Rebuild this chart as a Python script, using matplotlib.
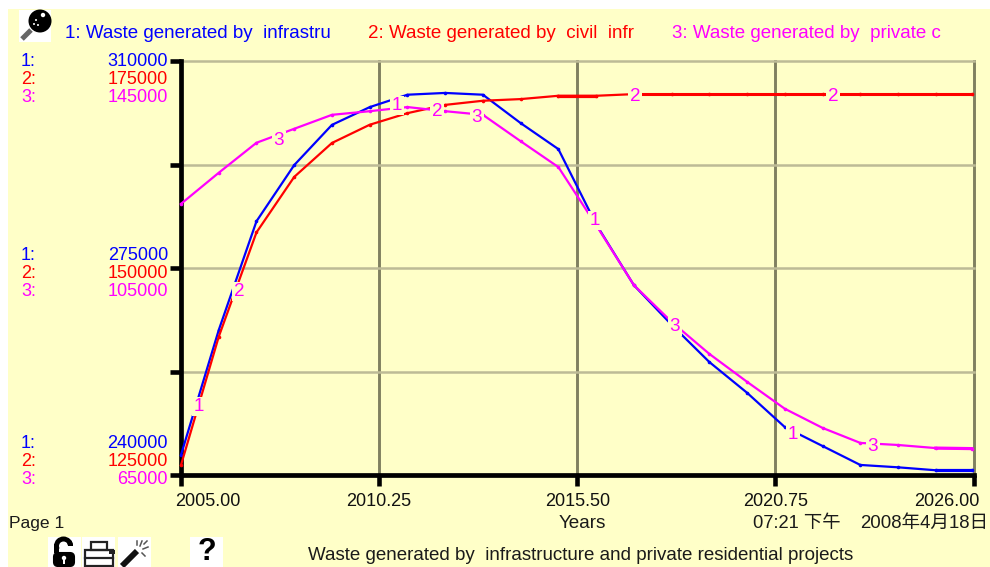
import numpy as np
import matplotlib
matplotlib.use("Agg")
import matplotlib.pyplot as plt
from matplotlib.patches import Rectangle, Circle, Wedge, FancyBboxPatch
from matplotlib.lines import Line2D
from matplotlib.transforms import ScaledTranslation

# ---------- data ----------
years = [2005, 2006, 2007, 2008, 2009, 2010, 2011, 2012, 2013, 2014, 2015,
         2016, 2017, 2018, 2019, 2020, 2021, 2022, 2023, 2024, 2025, 2025.95]
infrastructure = [243400, 264500, 282900, 292400, 299200, 302200, 304300, 304600,
                  304300, 299500, 295100, 282400, 272100, 265400, 259100, 253900,
                  248100, 244900, 241700, 241300, 240800, 240800]
civil = [126200, 141700, 154300, 161000, 165100, 167300, 168700, 169700, 170200,
         170400, 170800, 170800, 171000, 171000, 171000, 171000, 171000, 171000,
         171000, 171000, 171000, 171000]
private = [117400, 123400, 129200, 131900, 134600, 135300, 136100, 135300, 134600,
           129500, 124500, 113300, 101700, 94600, 88400, 83000, 77800, 74100,
           71200, 70800, 70200, 70100]
scale_1 = [240000, 275000, 310000]
scale_2 = [125000, 150000, 175000]
scale_3 = [65000, 105000, 145000]
x_ticks = [2005.00, 2010.25, 2015.50, 2020.75, 2026.00]
legend_names = ["1: Waste generated by  infrastru",
                "2: Waste generated by  civil  infr",
                "3: Waste generated by  private c"]
title_text = "Waste generated by  infrastructure and private residential projects"

BLUE, RED, MAG = "#0000FF", "#FF0000", "#FF00FF"
BG = "#FFFFC8"
W, H = 990, 567
FS = 13.0

plt.rcParams["font.family"] = ["Liberation Sans", "Noto Sans CJK SC", "DejaVu Sans"]
fig = plt.figure(figsize=(W / 100, H / 100), dpi=100, facecolor="white")

# background panel
bg = fig.add_axes([0, 0, 1, 1], zorder=0)
bg.set_xlim(0, W); bg.set_ylim(H, 0); bg.axis("off")
bg.add_patch(Rectangle((8, 9), W - 8, H - 9, fc=BG, ec="none"))

# plot axes
L, R, T, B = 181, 973.5, 61, 475
ax = fig.add_axes([L / W, 1 - B / H, (R - L) / W, (B - T) / H], zorder=1)
ax.patch.set_visible(False)
ax.set_xlim(2005, 2026)
ax.set_ylim(scale_1[0], scale_1[-1])
ax.set_yticks(np.linspace(scale_1[0], scale_1[-1], 5))
ax.set_yticklabels([])
ax.set_xticks(x_ticks)
ax.set_xticklabels([f"{v:.2f}" for v in x_ticks], fontsize=FS, color="#111111")
ax.tick_params(axis="both", length=7.6, width=3.3, color="black")
ax.tick_params(axis="x", pad=5)
for s in ("top", "right"):
    ax.spines[s].set_visible(False)
for s in ("left", "bottom"):
    ax.spines[s].set_linewidth(3.4)
    ax.spines[s].set_capstyle("projecting")
ax.set_axisbelow(True)
ax.xaxis.grid(True, color="#808060", lw=2.1, zorder=1)
ax.yaxis.grid(True, color="#BDBB96", lw=1.8, zorder=2)
for gl in ax.get_xgridlines() + ax.get_ygridlines():
    gl.set_clip_on(False)

labs = ax.get_xticklabels()
labs[0].set_ha("left")
labs[0].set_transform(labs[0].get_transform() + ScaledTranslation(-6 / 100, 0, fig.dpi_scale_trans))
labs[-1].set_ha("right")
labs[-1].set_transform(labs[-1].get_transform() + ScaledTranslation(6 / 100, 0, fig.dpi_scale_trans))

ax2 = ax.twinx(); ax3 = ax.twinx()
for a, sc in ((ax2, scale_2), (ax3, scale_3)):
    a.set_ylim(sc[0], sc[-1])
    a.axis("off")
    a.patch.set_visible(False)

lk = dict(lw=1.6, marker="o", ms=2.6, mew=0, solid_joinstyle="round", clip_on=False)
ax.plot(years, infrastructure, color=BLUE, zorder=5, **lk)
ax2.plot(years, civil, color=RED, zorder=5, **lk)
ax3.plot(years, private, color=MAG, zorder=5, **lk)
# thick flat end segments as seen on the original
ax.plot(years[-2:], infrastructure[-2:], color=BLUE, lw=2.3, zorder=5)
ax3.plot(years[-2:], private[-2:], color=MAG, lw=2.3, zorder=5)
ax2.plot(years[10:12], civil[10:12], color=RED, lw=2.3, zorder=5)
ax2.plot(years[12:], civil[12:], color=RED, lw=2.2, zorder=5)

# overlay in pixel coordinates
ov = fig.add_axes([0, 0, 1, 1], zorder=10)
ov.patch.set_visible(False)
ov.set_xlim(0, W); ov.set_ylim(H, 0); ov.axis("off")

# curve labels
curve_labels = [("1", 199, 406), ("2", 239, 291), ("3", 279, 140),
                ("1", 397, 105), ("2", 437, 111), ("3", 477, 117),
                ("1", 595, 220), ("2", 635, 96), ("3", 675, 326),
                ("1", 793, 434), ("2", 833, 96), ("3", 873, 446)]
for t, x, y in curve_labels:
    ov.text(x, y + 0.5, t, color=MAG, fontsize=13.6, ha="center", va="center",
            bbox=dict(fc=BG, ec="none", pad=1.0))

# scale labels
rows = [(442, 460, 478), (254, 272, 290), (61, 79, 97)]
for i, (y1, y2, y3) in enumerate(rows):
    for lab, col, y, vals in (("1:", BLUE, y1, scale_1), ("2:", RED, y2, scale_2), ("3:", MAG, y3, scale_3)):
        ov.text(21, y + 1, lab, color=col, fontsize=FS, ha="left", va="center")
        ov.text(168, y + 1, f"{vals[i]}", color=col, fontsize=FS, ha="right", va="center")

# legend
for x, col, name in zip((65, 368, 672), (BLUE, RED, MAG), legend_names):
    ov.text(x, 33, name, color=col, fontsize=13.5, ha="left", va="center")

# footer text
DK = "#1A1A1A"
ov.text(9, 528, "Page 1", color=DK, fontsize=FS - 0.4, ha="left", va="baseline")
ov.text(582, 528, "Years", color=DK, fontsize=13.6, ha="center", va="baseline")
ov.text(753, 528, "07:21 下午", color=DK, fontsize=13.2, ha="left", va="baseline")
ov.text(988.5, 528, "2008年4月18日", color=DK, fontsize=13.4, ha="right", va="baseline")
ov.text(581, 559.5, title_text, color=DK, fontsize=13.5, ha="center", va="baseline")

# icons ---------------------------------------------------------------
for x0, x1 in ((48, 81), (82, 115), (118, 151), (190, 223)):
    ov.add_patch(Rectangle((x0, 537), x1 - x0, 30, fc="white", ec="none"))
ov.add_patch(Rectangle((19, 10), 32, 32, fc="white", ec="none"))

# magnifier
ov.add_line(Line2D([31, 22], [30, 39], color="#666666", lw=3.6, solid_capstyle="butt"))
ov.add_patch(Circle((40, 21), 11.5, fc="black", ec="none"))
for px, py, r in ((43, 15, 2.2), (36, 20, 1.0), (34, 24, 1.0), (38, 25, 1.0)):
    ov.add_patch(Circle((px, py), r, fc="white", ec="none"))

# lock
ov.add_patch(Wedge((63.5, 546), 9.5, 180, 360, width=5, fc="black", ec="none"))
ov.add_patch(Wedge((63.5, 546), 9.5, 150, 180, width=5, fc="black", ec="none"))
ov.add_patch(Wedge((63.5, 546), 9.5, -35, 0, width=5, fc="black", ec="none"))
ov.add_patch(Rectangle((54, 544), 5, 9, fc="black", ec="none"))
ov.add_patch(FancyBboxPatch((54, 553), 20, 13, boxstyle="round,pad=0,rounding_size=4",
                            fc="black", ec="black", lw=1.5))
ov.add_patch(Circle((64, 558), 2.2, fc="white", ec="none"))
ov.add_patch(Rectangle((63, 558), 2, 6, fc="white", ec="none"))

# printer
pk = dict(fc="none", ec="#222222", lw=1.6)
ov.add_patch(Rectangle((91, 542), 16, 8, **pk))
ov.add_patch(Rectangle((85, 550), 28, 16, **pk))
ov.add_line(Line2D([85, 113], [558, 558], color="#222222", lw=1.6))
ov.add_patch(Rectangle((109, 550), 6, 4, fc="#222222", ec="none"))

# wand
ov.add_line(Line2D([122, 137], [566, 551], color="#111111", lw=4.2, solid_capstyle="butt"))
for (a, b) in (((140, 546), (142, 541)), ((143, 549), (148, 547)), ((144, 544), (147, 541)),
               ((137, 545), (137, 541)), ((142, 553), (145, 556))):
    ov.add_line(Line2D([a[0], b[0]], [a[1], b[1]], color="#555555", lw=1.1))

# question mark
ov.text(206.5, 560, "?", color="black", fontsize=22, fontweight="bold", ha="center", va="baseline")

fig.savefig("out.png", dpi=100, facecolor="white")
